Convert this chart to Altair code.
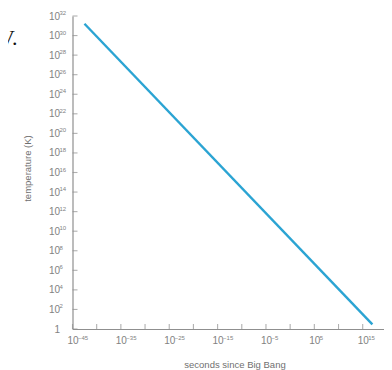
import altair as alt
import pandas as pd

# ---- data ----
time_s = [3e-43, 1e17]          # seconds since Big Bang (line end points)
temp_K = [1.6e31, 3.0]          # temperature (K)

y_label_exp = list(range(0, 33, 2))          # 1, 10^2 ... 10^32
x_tick_exp = list(range(-45, 16, 5))         # ticks every 5 decades
x_label_exp = list(range(-45, 16, 10))       # labels every 10 decades

W, H = 311, 313
AXIS = "#8f8f8f"
LABEL = "#828282"
LINE = "#2ba4d3"
FONT = "Liberation Sans"

line_df = pd.DataFrame({"t": time_s, "T": temp_K})
yt_df = pd.DataFrame({"v": [10.0 ** e for e in y_label_exp]})
ys_df = pd.DataFrame({"v": [10.0 ** e for e in y_label_exp if e > 0],
                      "s": [str(e) for e in y_label_exp if e > 0]})
xt_df = pd.DataFrame({"v": [10.0 ** e for e in x_tick_exp]})
xs_df = pd.DataFrame({"v": [10.0 ** e for e in x_label_exp],
                      "s": [str(e).replace("-", "\u2212") for e in x_label_exp]})

xscale = alt.Scale(type="log", domain=[1e-45, 10 ** 19.3], nice=False)
yscale = alt.Scale(type="log", domain=[1, 1e32], nice=False)

line = alt.Chart(line_df).mark_line(color=LINE, strokeWidth=2.4).encode(
    x=alt.X("t:Q", scale=xscale, title="seconds since Big Bang",
            axis=alt.Axis(values=[10.0 ** e for e in x_label_exp], labelExpr="'10'",
                          ticks=False, grid=False, labelPadding=6, labelBaseline="top",
                          labelFlush=False, labelOverlap=False,
                          titleX=162, titleY=35, titleBaseline="middle")),
    y=alt.Y("T:Q", scale=yscale, title="temperature (K)",
            axis=alt.Axis(values=[10.0 ** e for e in y_label_exp],
                          labelExpr="datum.value < 2 ? '1' : '10'",
                          ticks=False, grid=False, labelPadding=13,
                          labelFlush=False, labelOverlap=False,
                          titleX=-45, titleY=152, titleAngle=-90,
                          titleAlign="center", titleBaseline="middle")),
)

yticks = alt.Chart(yt_df).mark_tick(color=AXIS, thickness=1.1, size=5, orient="horizontal").encode(
    y=alt.Y("v:Q", scale=yscale), x=alt.value(2.5))
xticks = alt.Chart(xt_df).mark_tick(color=AXIS, thickness=1.1, size=5, orient="vertical").encode(
    x=alt.X("v:Q", scale=xscale), y=alt.value(H - 2.5))

ysup = alt.Chart(ys_df).mark_text(font=FONT, fontSize=6, color=LABEL, align="left",
                                  baseline="alphabetic", dy=-1).encode(
    y=alt.Y("v:Q", scale=yscale), x=alt.value(-13), text="s:N")
xsup = alt.Chart(xs_df).mark_text(font=FONT, fontSize=6, color=LABEL, align="left",
                                  baseline="alphabetic", dx=5.5).encode(
    x=alt.X("v:Q", scale=xscale), y=alt.value(H + 11), text="s:N")

frag = alt.Chart(pd.DataFrame({"f": ["V."]})).mark_text(
    font="Liberation Serif", fontSize=22, color="#111", align="right").encode(
    x=alt.value(-55), y=alt.value(22), text="f:N")

chart = alt.layer(line, yticks, xticks, ysup, xsup, frag).properties(
    width=W, height=H,
    autosize=alt.AutoSizeParams(type="none"),
    padding={"left": 64.5, "top": 8, "right": 0, "bottom": 46},
).configure_view(stroke=None).configure_axis(
    domainColor=AXIS, domainWidth=1.2, labelColor=LABEL, labelFont=FONT,
    labelFontSize=10, titleColor="#707070", titleFont=FONT, titleFontSize=9.5,
    titleFontWeight="normal",
)

chart.save("out.html", embed_options={"renderer": "svg", "actions": False})
